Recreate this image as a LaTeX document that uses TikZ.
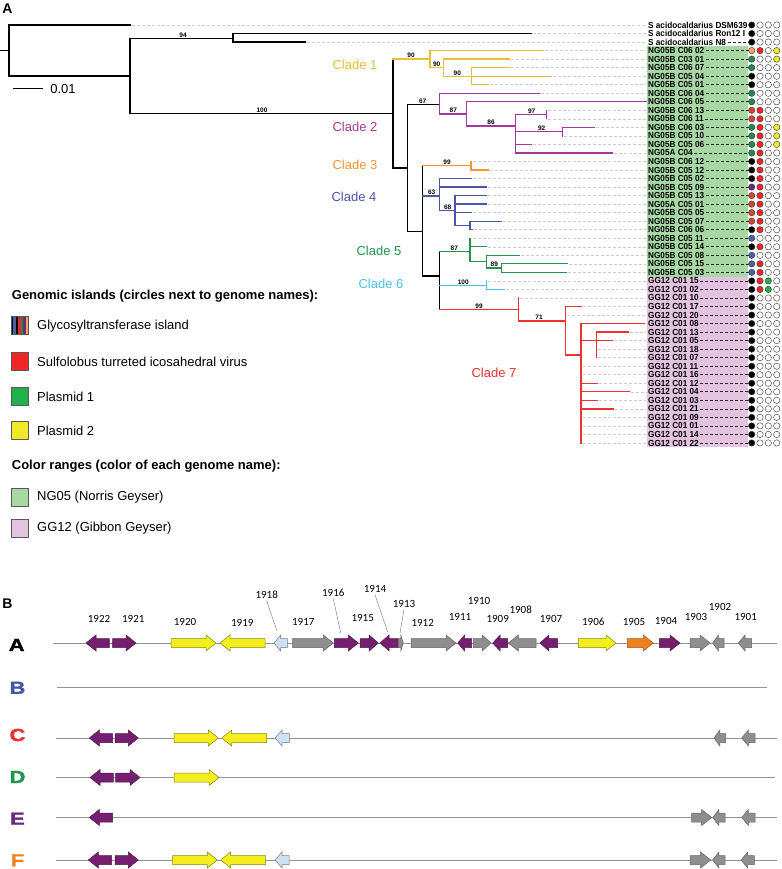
\documentclass[tikz,border=0pt]{standalone}
\usepackage{fontspec}
\usepackage{graphicx}
\setmainfont{Liberation Sans}
\newfontfamily\genefont{Carlito}
\newfontfamily\heavyfont[FakeBold=1.6]{Liberation Sans}
\usetikzlibrary{positioning,calc}
% clade colours
\definecolor{cY}{HTML}{E8BE34}
\definecolor{cP}{HTML}{A6379C}
\definecolor{cO}{HTML}{F29532}
\definecolor{cB}{HTML}{4A55A5}
\definecolor{cG}{HTML}{22954C}
\definecolor{cC}{HTML}{48C2EC}
\definecolor{cR}{HTML}{EC3232}
% bands and circles
\definecolor{ngBand}{HTML}{A8D9A5}
\definecolor{ggBand}{HTML}{E3C3DF}
\colorlet{K}{black}
\colorlet{W}{white}
\definecolor{gOr}{HTML}{F0A466}
\definecolor{gGr}{HTML}{1E8C4A}
\definecolor{gRd}{HTML}{D8442E}
\definecolor{gPu}{HTML}{6A2A7E}
\definecolor{gBl}{HTML}{4A62A8}
\definecolor{vRd}{HTML}{F02626}
\definecolor{pGr}{HTML}{22B04A}
\definecolor{pYe}{HTML}{F2E82A}
% genes
\definecolor{genePu}{HTML}{74206E}
\definecolor{geneYe}{HTML}{F4EE1E}
\definecolor{geneLb}{HTML}{CFE0F2}
\definecolor{geneGy}{HTML}{8E8E8E}
\definecolor{geneOr}{HTML}{EE8020}

\pgfmathdeclarefunction{ry}{1}{\pgfmathparse{25+8.53*#1}}

% gene arrow: tail x, tip x, y, style
\newcommand\gene[4]{%
  \pgfmathsetmacro\gL{min(10,0.5*abs(#2-#1))}%
  \pgfmathsetmacro\gB{#2>#1 ? #2-\gL : #2+\gL}%
  \draw[#4] (#1,#3-4.5) -- (\gB,#3-4.5) -- (\gB,#3-8) -- (#2,#3)
    -- (\gB,#3+8) -- (\gB,#3+4.5) -- (#1,#3+4.5) -- cycle;}

\begin{document}
\begin{tikzpicture}[
  x=1pt, y=-1pt,
  br/.style={line width=1.3pt, line cap=rect},
  cl1/.style={draw=cY}, cl2/.style={draw=cP}, cl3/.style={draw=cO},
  cl4/.style={draw=cB}, cl5/.style={draw=cG}, cl6/.style={draw=cC},
  cl7/.style={draw=cR},
  tipline/.style={draw=black!20, dash pattern=on 3pt off 2pt, line width=0.5pt},
  namedash/.style={draw=black!85, dash pattern=on 3pt off 2pt, line width=0.6pt},
  leaf/.style={anchor=west, inner sep=0pt, font=\fontsize{8.8}{8.8}\selectfont\bfseries},
  boot/.style={anchor=south, inner sep=0pt, font=\fontsize{6.5}{6.5}\selectfont\bfseries},
  clade/.style={inner sep=0pt, font=\fontsize{13}{13}\selectfont},
  dot/.style={circle, inner sep=0pt, minimum size=6.4pt, draw=black!80, line width=0.4pt},
  panel/.style={inner sep=0pt, font=\fontsize{14}{14}\selectfont\bfseries},
  leghead/.style={anchor=west, inner sep=0pt, font=\fontsize{13}{13}\selectfont\bfseries},
  legbox/.style={draw=black!65, line width=0.5pt, minimum width=17pt, minimum height=18pt, inner sep=0pt},
  legtext/.style={inner sep=0pt, font=\fontsize{13}{13}\selectfont},
  baseline/.style={draw=black!42, line width=0.7pt},
  rowlab/.style={inner sep=0pt, font=\fontsize{17.5}{17.5}\heavyfont\bfseries},
  genelab/.style={inner sep=0pt, font=\fontsize{11}{11}\selectfont\genefont},
  leader/.style={draw=black!55, line width=0.4pt},
  gP/.style={fill=genePu, draw=genePu!70!black, line width=0.5pt},
  gY/.style={fill=geneYe, draw=black!45!geneYe, line width=0.5pt},
  gL/.style={fill=geneLb, draw=black!45!geneLb, line width=0.5pt},
  gG/.style={fill=geneGy, draw=black!60, line width=0.5pt},
  gO/.style={fill=geneOr, draw=geneOr!70!black, line width=0.5pt},
]
\useasboundingbox (0,0) rectangle (781,869);

% ---------- panel A ----------
\node[panel] (pA) at (7.5,8.3) {A};

% colour ranges
\fill[ngBand] (647,{ry(3)-4.27}) rectangle (748,{ry(29)+4.27});
\fill[ggBand] (647,{ry(29)+4.27}) rectangle (748,{ry(49)+4.27});

% dashed guides from tips to names
\foreach \r/\t in {0/130,1/531.7,2/305,3/543.3,4/509,5/509,6/551.7,7/488.3,8/539.3,
  10/546.7,11/546.7,12/594.3,13/562.7,14/531.7,15/612.3,16/471,17/488.3,18/471,
  19/486.7,20/486.7,21/486.7,22/471.7,23/501.7,24/472,25/471,26/486.7,27/519,
  28/567.7,29/566,30/486.7,31/504.3,32/518.3,33/581.7,34/565.7,36/628.3,
  37/612.3,38/596.7,39/596.7,40/581,41/581,42/597.7,43/629.3,44/597.7,45/613.3,
  46/581,47/581,48/581,49/581}
  {\draw[tipline] (\t+1.5,{ry(\r)}) -- (646,{ry(\r)});}

% backbone
\draw[br] (0,50.7) -- (9,50.7) (9,25) -- (9,76) (9,25) -- (130,25) (9,76) -- (130,76)
  (130,38.3) -- (130,113.3) (130,38.3) -- (233,38.3)
  (233,{ry(1)}) -- (233,{ry(2)}) (233,{ry(1)}) -- (531.7,{ry(1)}) (233,{ry(2)}) -- (305,{ry(2)})
  (130,113.3) -- (393,113.3) (393,{ry(4)}) -- (393,168) (393,168) -- (407.3,168)
  (407.3,104.3) -- (407.3,231.7) (407.3,104.3) -- (439.3,104.3)
  (407.3,231.7) -- (422.7,231.7) (422.7,{ry(16.5)}) -- (422.7,276)
  (422.7,276) -- (439.3,276) (439.3,251.7) -- (439.3,309.3);

% clade 1
\draw[br,cl1] (393,{ry(4)}) -- (430,{ry(4)}) (430,{ry(3)}) -- (430,{ry(5)})
  (430,{ry(3)}) -- (543.3,{ry(3)}) (430,{ry(5)}) -- (443.3,{ry(5)})
  (443.3,{ry(4)}) -- (443.3,{ry(6)}) (443.3,{ry(4)}) -- (509,{ry(4)})
  (443.3,{ry(6)}) -- (471.7,{ry(6)}) (471.7,{ry(5)}) -- (471.7,{ry(7)})
  (471.7,{ry(5)}) -- (509,{ry(5)}) (471.7,{ry(6)}) -- (551.7,{ry(6)})
  (471.7,{ry(7)}) -- (488.3,{ry(7)});
% clade 2
\draw[br,cl2] (439.3,{ry(8)}) -- (439.3,113.9) (439.3,{ry(8)}) -- (539.3,{ry(8)})
  (439.3,113.9) -- (466.7,113.9) (466.7,{ry(9)}) -- (466.7,126)
  (466.7,{ry(9)}) -- (646,{ry(9)}) (466.7,126) -- (515.7,126)
  (515.7,{ry(10.5)}) -- (515.7,{ry(15)}) (515.7,{ry(10.5)}) -- (546.7,{ry(10.5)})
  (546.7,{ry(10)}) -- (546.7,{ry(11)}) (515.7,{ry(12.5)}) -- (562.7,{ry(12.5)})
  (562.7,{ry(12)}) -- (562.7,{ry(13)}) (562.7,{ry(12)}) -- (594.3,{ry(12)})
  (515.7,{ry(14)}) -- (531.7,{ry(14)}) (515.7,{ry(15)}) -- (612.3,{ry(15)});
% clade 3
\draw[br,cl3] (422.7,{ry(16.5)}) -- (471,{ry(16.5)}) (471,{ry(16)}) -- (471,{ry(17)})
  (471,{ry(17)}) -- (488.3,{ry(17)});
% clade 4
\draw[br,cl4] (422.7,196) -- (439.3,196) (439.3,{ry(18)}) -- (439.3,210.5)
  (439.3,{ry(18)}) -- (471,{ry(18)}) (439.3,{ry(19)}) -- (486.7,{ry(19)})
  (439.3,210.5) -- (455,210.5) (455,{ry(20)}) -- (455,{ry(23.5)})
  (455,{ry(20)}) -- (486.7,{ry(20)}) (455,{ry(21)}) -- (486.7,{ry(21)})
  (455,{ry(22)}) -- (471.7,{ry(22)}) (455,{ry(23.5)}) -- (470,{ry(23.5)})
  (470,{ry(23)}) -- (470,{ry(24)}) (470,{ry(23)}) -- (501.7,{ry(23)})
  (470,{ry(24)}) -- (472,{ry(24)});
% clade 5
\draw[br,cl5] (439.3,251.7) -- (470,251.7) (470,{ry(25)}) -- (470,261.7)
  (470,{ry(26)}) -- (486.7,{ry(26)}) (470,261.7) -- (486.7,261.7)
  (486.7,{ry(27)}) -- (486.7,{ry(28.5)}) (486.7,{ry(27)}) -- (519,{ry(27)})
  (486.7,{ry(28.5)}) -- (501.7,{ry(28.5)}) (501.7,{ry(28)}) -- (501.7,{ry(29)})
  (501.7,{ry(28)}) -- (567.7,{ry(28)}) (501.7,{ry(29)}) -- (566,{ry(29)});
% clade 6
\draw[br,cl6] (439.3,{ry(30.5)}) -- (486.7,{ry(30.5)}) (486.7,{ry(30)}) -- (486.7,{ry(31)})
  (486.7,{ry(31)}) -- (504.3,{ry(31)});
% clade 7
\draw[br,cl7] (439.3,309.3) -- (518.3,309.3) (518.3,{ry(32)}) -- (518.3,321)
  (518.3,321) -- (565.7,321) (565.7,{ry(33)}) -- (565.7,355)
  (565.7,{ry(33)}) -- (581.7,{ry(33)}) (565.7,355) -- (581,355)
  (581,{ry(35)}) -- (581,{ry(49)}) (581,{ry(35)}) -- (644.3,{ry(35)})
  (581,{ry(37)}) -- (612.3,{ry(37)}) (596.7,{ry(36)}) -- (596.7,{ry(39)})
  (596.7,{ry(36)}) -- (628.3,{ry(36)}) (581,{ry(42)}) -- (597.7,{ry(42)})
  (581,{ry(43)}) -- (629.3,{ry(43)}) (581,{ry(44)}) -- (597.7,{ry(44)})
  (581,{ry(45)}) -- (613.3,{ry(45)});

% bootstrap values
\node[boot] (b94) at (183,37.4) {94};
\node[boot] (b100) at (262,112.4) {100};
\node[boot] (b90a) at (411,58.2) {90};
\node[boot] (b90b) at (436.7,66.7) {90};
\node[boot] (b90c) at (457.3,75.3) {90};
\node[boot] (b67) at (422.7,103.4) {67};
\node[boot] (b87a) at (453.3,113) {87};
\node[boot] (b86) at (491,125.1) {86};
\node[boot] (b97) at (531.7,113.7) {97};
\node[boot] (b92) at (541.7,130.8) {92};
\node[boot] (b99a) at (447,164.9) {99};
\node[boot] (b63) at (431.7,195.1) {63};
\node[boot] (b68) at (447.7,209.6) {68};
\node[boot] (b87b) at (454.3,250.8) {87};
\node[boot] (b89) at (494.3,267.2) {89};
\node[boot] (b100b) at (463.3,284.3) {100};
\node[boot] (b99b) at (479,308.4) {99};
\node[boot] (b71) at (539,320.1) {71};

% scale bar
\draw[line width=1pt] (13.3,89) -- (43.3,89);
\node[clade] (scale) at (63,89) {0.01};

% clade names
\node[clade, text=cY] (c1) at (355,65) {Clade 1};
\node[clade, text=cP] (c2) at (355,127) {Clade 2};
\node[clade, text=cO] (c3) at (355,165) {Clade 3};
\node[clade, text=cB] (c4) at (354,196.7) {Clade 4};
\node[clade, text=cG] (c5) at (379,250.7) {Clade 5};
\node[clade, text=cC] (c6) at (381,284) {Clade 6};
\node[clade, text=cR] (c7) at (494,373) {Clade 7};

% genome names
\foreach \r/\n in {0/S acidocaldarius DSM639,1/S acidocaldarius Ron12 I,2/S acidocaldarius N8,
  3/NG05B C06 02,4/NG05B C03 01,5/NG05B C06 07,6/NG05B C05 04,7/NG05B C05 01,
  8/NG05B C06 04,9/NG05B C06 05,10/NG05B C06 13,11/NG05B C06 11,12/NG05B C06 03,
  13/NG05B C05 10,14/NG05B C05 06,15/NG05A C04,16/NG05B C06 12,17/NG05B C05 12,
  18/NG05B C05 02,19/NG05B C05 09,20/NG05B C05 13,21/NG05A C05 01,22/NG05B C05 05,
  23/NG05B C05 07,24/NG05B C06 06,25/NG05B C05 11,26/NG05B C05 14,27/NG05B C05 08,
  28/NG05B C05 15,29/NG05B C05 03,30/GG12 C01 15,31/GG12 C01 02,32/GG12 C01 10,
  33/GG12 C01 17,34/GG12 C01 20,35/GG12 C01 08,36/GG12 C01 13,37/GG12 C01 05,
  38/GG12 C01 18,39/GG12 C01 07,40/GG12 C01 11,41/GG12 C01 16,42/GG12 C01 12,
  43/GG12 C01 04,44/GG12 C01 03,45/GG12 C01 21,46/GG12 C01 09,47/GG12 C01 01,
  48/GG12 C01 14,49/GG12 C01 22}
  {\node[leaf] (leaf\r) at (648,{ry(\r)}) {\scalebox{0.93}[1]{\n}};}
\foreach \r in {2,...,49}
  {\draw[namedash] (leaf\r.east) ++(1.5,0) -- (748.5,{ry(\r)});}

% island circles
\foreach \r/\a/\b/\c/\d in {0/K/W/W/W,1/K/W/W/W,2/K/W/W/W,3/gOr/vRd/W/pYe,4/gGr/W/W/pYe,
  5/gGr/W/W/W,6/K/W/W/W,7/K/W/W/W,8/gGr/W/W/W,9/gGr/W/W/W,10/gRd/vRd/W/W,
  11/gRd/vRd/W/W,12/gGr/vRd/W/pYe,13/gGr/vRd/W/pYe,14/gGr/vRd/W/pYe,15/gGr/vRd/W/W,
  16/K/vRd/W/W,17/K/vRd/W/W,18/K/vRd/W/W,19/gPu/vRd/W/W,20/gRd/vRd/W/W,
  21/gRd/vRd/W/W,22/gRd/vRd/W/W,23/gRd/vRd/W/W,24/K/vRd/W/W,25/gBl/W/W/W,
  26/K/vRd/W/W,27/gBl/W/W/W,28/gBl/vRd/W/W,29/gBl/vRd/W/W,30/K/vRd/pGr/W,
  31/K/vRd/pGr/W,32/K/W/W/W,33/K/W/W/W,34/K/W/W/W,35/K/W/W/W,36/K/W/W/W,
  37/K/W/W/W,38/K/W/W/W,39/K/W/W/W,40/K/W/W/W,41/K/W/W/W,42/K/W/W/W,
  43/K/W/W/W,44/K/W/W/W,45/K/W/W/W,46/K/W/W/W,47/K/W/W/W,48/K/W/W/W,49/K/W/W/W}
{
  \node[dot, fill=\a] (ia\r) at (751.7,{ry(\r)}) {};
  \node[dot, fill=\b] (ib\r) at (760,{ry(\r)}) {};
  \node[dot, fill=\c] (ic\r) at (768.3,{ry(\r)}) {};
  \node[dot, fill=\d] (id\r) at (776.7,{ry(\r)}) {};
}

% legend
\node[leghead] (hIsl) at (11.7,296.5) {Genomic islands (circles next to genome names):};
\node[legbox] (kGly) at (19.7,325.7) {};
\foreach \i/\c in {0/black,1/gBl,2/black,3/vRd,4/gGr,5/gPu,6/gOr}
  {\fill[\c] ($(kGly.west)+(\i*17/7,-9)$) rectangle ++(17/7,18);}
\node[legbox] at (kGly) {};
\node[legtext, right=8.5pt of kGly] (tGly) {Glycosyltransferase island};
\node[legbox, fill=vRd] (kStiv) at (19.7,361.7) {};
\node[legtext, right=8.5pt of kStiv] (tStiv) {Sulfolobus turreted icosahedral virus};
\node[legbox, fill=pGr] (kPl1) at (19.7,396.5) {};
\node[legtext, right=8.5pt of kPl1] (tPl1) {Plasmid 1};
\node[legbox, fill=pYe] (kPl2) at (19.7,430.7) {};
\node[legtext, right=8.5pt of kPl2] (tPl2) {Plasmid 2};
\node[leghead] (hCol) at (11.7,466) {Color ranges (color of each genome name):};
\node[legbox, fill=ngBand] (kNG) at (19.7,497.3) {};
\node[legtext, right=8.5pt of kNG] (tNG) {NG05 (Norris Geyser)};
\node[legbox, fill=ggBand] (kGG) at (19.7,528.3) {};
\node[legtext, right=8.5pt of kGG] (tGG) {GG12 (Gibbon Geyser)};

% ---------- panel B ----------
\node[panel] (pB) at (7.5,603.7) {B};

\foreach \n/\y/\s/\e in {A/643/53.3/777,B/687/56.7/767,C/738/56/777,
  D/777.5/56/775,E/817.5/56/777,F/860/56/777}
  {\draw[baseline] (\s,\y) -- (\e,\y);}

\node[rowlab] (rA) at (16.7,645) {\scalebox{1.25}[1]{A}};
\node[rowlab, text=cB] (rB) at (17.5,687.8) {\scalebox{1.25}[1]{B}};
\node[rowlab, text=cR] (rC) at (17.5,735) {\scalebox{1.25}[1]{C}};
\node[rowlab, text=cG] (rD) at (17.5,777) {\scalebox{1.25}[1]{D}};
\node[rowlab, text=gPu] (rE) at (17.5,818.7) {\scalebox{1.25}[1]{E}};
\node[rowlab, text=geneOr] (rF) at (17.5,860.3) {\scalebox{1.25}[1]{F}};

% row A genes
\foreach \a/\b/\s in {109.3/86/gP,112.7/136/gP,171/216/gY,265/220/gY,287.3/274/gL,
  292.7/333.3/gG,334.3/358.3/gP,360/378.3/gP,398.3/380/gP,398.3/403.3/gG,
  411/456/gG,471.7/457.7/gP,473.3/491/gG,507.7/492.7/gP,536/508.3/gG,
  557.7/540/gP,578.3/616/gY,627.3/653.3/gO,659.3/680/gP,690/710/gG,
  724/712.7/gG,751.7/738.3/gG}
  {\gene{\a}{\b}{643}{\s}}
% row C genes
\foreach \a/\b/\s in {112.7/89.3/gP,115/138.3/gP,174/218.3/gY,266.7/221.7/gY,
  289.3/275/gL,725.7/714/gG,755/741.7/gG}
  {\gene{\a}{\b}{738}{\s}}
% row D genes
\foreach \a/\b/\s in {113.3/90/gP,115.7/140/gP,174/219/gY}
  {\gene{\a}{\b}{777.5}{\s}}
% row E genes
\foreach \a/\b/\s in {112.7/89.3/gP,691.7/711.7/gG,725/712.7/gG,755/741.7/gG}
  {\gene{\a}{\b}{817.5}{\s}}
% row F genes
\foreach \a/\b/\s in {111.7/88.3/gP,115/138.3/gP,172.7/217.3/gY,265.7/220.7/gY,
  289/275/gL,690/710.7/gG,725/712.7/gG,754.3/741/gG}
  {\gene{\a}{\b}{860}{\s}}

% gene numbers
\foreach \x/\y/\t in {99/619.3/1922,133.3/619.3/1921,185/621.7/1920,242.3/623.3/1919,
  266.7/595/1918,303.3/621.7/1917,333.3/592.7/1916,362.7/618.3/1915,375/589/1914,
  404/604/1913,422.7/622.7/1912,460/616.7/1911,479/600.7/1910,497.7/619.3/1909,
  520.7/609.3/1908,551/619.3/1907,593.3/622.3/1906,634/621.7/1905,666/621/1904,
  696/617.3/1903,720/606.7/1902,745.7/616.7/1901}
  {\node[genelab] (n\t) at (\x,\y) {\t};}
\coordinate (e1918) at (276.7,630);
\coordinate (e1916) at (340.7,633);
\coordinate (e1914) at (387.7,632);
\coordinate (e1913) at (400,633);
\draw[leader] ([yshift=-2pt]n1918.south) -- (e1918);
\draw[leader] ([yshift=-2pt]n1916.south) -- (e1916);
\draw[leader] ([yshift=-2pt]n1914.south) -- (e1914);
\draw[leader] ([yshift=-1.5pt]n1913.south) -- (e1913);
\end{tikzpicture}
\end{document}
